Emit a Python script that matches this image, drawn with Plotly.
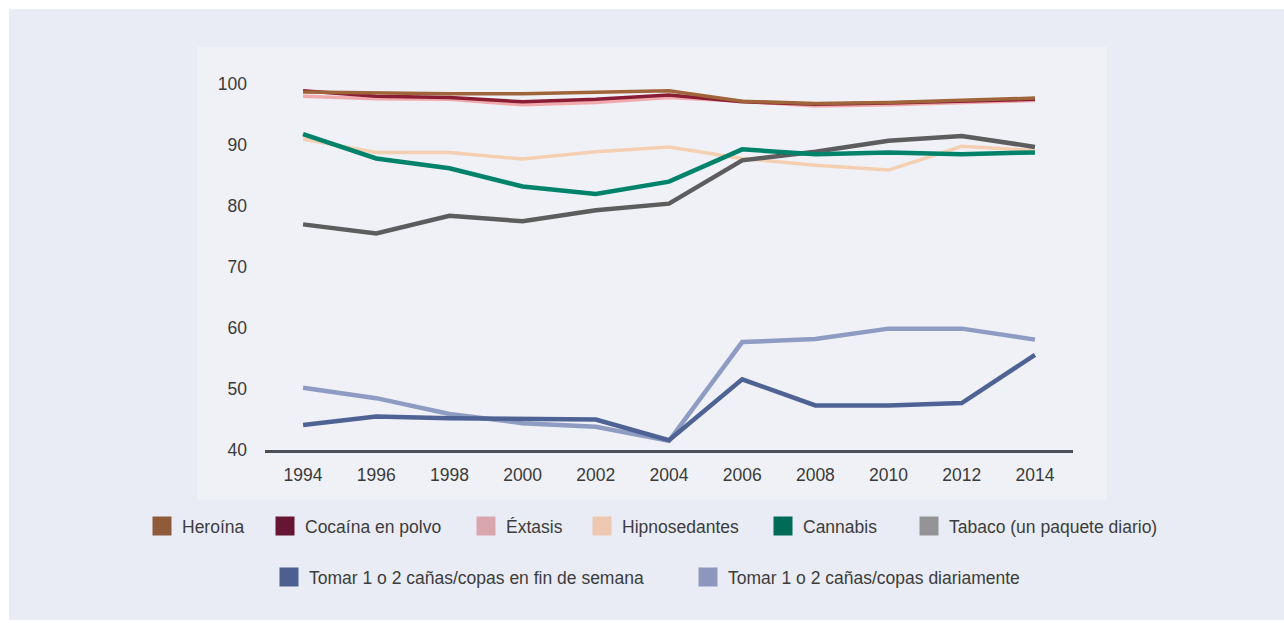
import plotly.graph_objects as go

# Survey years
years = [1994, 1996, 1998, 2000, 2002, 2004, 2006, 2008, 2010, 2012, 2014]

# Percentage perceiving each behaviour as risky
heroina = [98.7, 98.5, 98.4, 98.4, 98.7, 98.9, 97.2, 96.8, 97.0, 97.3, 97.7]
cocaina = [98.9, 98.0, 97.8, 97.1, 97.5, 98.2, 97.1, 96.7, 96.9, 97.2, 97.5]
extasis = [98.0, 97.6, 97.5, 96.6, 97.0, 97.8, 97.2, 96.4, 96.6, 97.0, 97.3]
hipnosedantes = [91.0, 88.8, 88.8, 87.7, 88.9, 89.7, 87.8, 86.7, 85.9, 89.8, 89.1]
cannabis = [91.8, 87.8, 86.2, 83.2, 82.0, 84.0, 89.3, 88.5, 88.8, 88.5, 88.8]
tabaco = [77.0, 75.5, 78.4, 77.5, 79.3, 80.4, 87.5, 88.9, 90.7, 91.5, 89.7]
fin_semana = [44.1, 45.5, 45.2, 45.1, 45.0, 41.6, 51.6, 47.3, 47.3, 47.7, 55.6]
diariamente = [50.2, 48.5, 45.9, 44.4, 43.8, 41.5, 57.7, 58.2, 59.9, 59.9, 58.1]

y_ticks = [40, 50, 60, 70, 80, 90, 100]

# name, values, line colour, legend swatch colour, line width
series = [
    ("Hipnosedantes", hipnosedantes, "#f4cfb2", "#eec8b1", 3.5),
    ("Éxtasis", extasis, "#f0aaae", "#d9a6ad", 3.5),
    ("Cocaína en polvo", cocaina, "#8a1c34", "#661632", 3.5),
    ("Heroína", heroina, "#a0643a", "#8f5b3b", 3.5),
    ("Tabaco (un paquete diario)", tabaco, "#5d5d60", "#949496", 4.5),
    ("Cannabis", cannabis, "#00826b", "#006b57", 4.5),
    ("Tomar 1 o 2 cañas/copas diariamente", diariamente, "#8e9bc2", "#8d97bd", 4.5),
    ("Tomar 1 o 2 cañas/copas en fin de semana", fin_semana, "#4e6394", "#4d5f90", 4.5),
]

# legend entries: name, left edge of swatch (px), row centre (px)
legend_slots = [
    ("Heroína", 152, 526),
    ("Cocaína en polvo", 275, 526),
    ("Éxtasis", 476, 526),
    ("Hipnosedantes", 592, 526),
    ("Cannabis", 773, 526),
    ("Tabaco (un paquete diario)", 919, 526),
    ("Tomar 1 o 2 cañas/copas en fin de semana", 279, 577),
    ("Tomar 1 o 2 cañas/copas diariamente", 698, 577),
]

W, H = 1284, 623
L, R, T, B = 265, 1073, 78, 450  # plot area in pixels


def px(x):
    return (x - L) / (R - L)


def py(y):
    return (B - y) / (B - T)


fig = go.Figure()

for name, vals, color, _, width in series:
    fig.add_trace(go.Scatter(
        x=years, y=vals, mode="lines", name=name,
        line=dict(color=color, width=width), showlegend=False,
        hoverinfo="x+y+name",
    ))

swatch = {s[0]: s[3] for s in series}
legend_font = dict(size=17.5, color="#3c3c3c")
legend_layouts = {}
for i, (name, left, cy) in enumerate(legend_slots):
    key = "legend" if i == 0 else f"legend{i + 1}"
    fig.add_trace(go.Scatter(
        x=[None], y=[None], mode="markers", name=name,
        marker=dict(symbol="square", size=16, color=swatch[name],
                    line=dict(width=3, color=swatch[name])),
        legend=key, showlegend=True,
    ))
    legend_layouts[key] = dict(
        orientation="h", xref="container", yref="container",
        x=(left - 10) / W, xanchor="left", y=1 - cy / H, yanchor="middle",
        bgcolor="rgba(0,0,0,0)", font=legend_font,
        itemclick=False, itemdoubleclick=False,
    )

shapes = [
    # outer panel
    dict(type="rect", xref="paper", yref="paper", layer="below",
         x0=px(9), x1=px(1284), y0=py(620), y1=py(9),
         fillcolor="#e9ecf4", line=dict(width=0)),
    # inner plot card
    dict(type="rect", xref="paper", yref="paper", layer="below",
         x0=px(197), x1=px(1107), y0=py(500), y1=py(47),
         fillcolor="#f0f1f6", line=dict(width=0)),
]

font_family = "Liberation Sans, Arial, Helvetica, sans-serif"

fig.update_layout(
    width=W, height=H,
    margin=dict(l=L, r=W - R, t=T, b=H - B, autoexpand=False),
    paper_bgcolor="white",
    plot_bgcolor="rgba(0,0,0,0)",
    shapes=shapes,
    font=dict(family=font_family, color="#3a3a3a", size=17.5),
    xaxis=dict(
        range=[1992.96, 2015.04], tickvals=years, ticktext=[str(y) for y in years],
        showgrid=False, zeroline=False, showline=True, linecolor="#4c5056",
        linewidth=2.5, ticks="", ticklabelstandoff=7,
        tickfont=dict(size=17.5, color="#3a3a3a"),
    ),
    yaxis=dict(
        range=[40, 101], tickvals=y_ticks, showgrid=False, zeroline=False,
        showline=False, ticks="", ticklabelstandoff=17,
        tickfont=dict(size=17.5, color="#3a3a3a"),
    ),
    showlegend=True,
    **legend_layouts,
)

fig.write_html("out.html")
